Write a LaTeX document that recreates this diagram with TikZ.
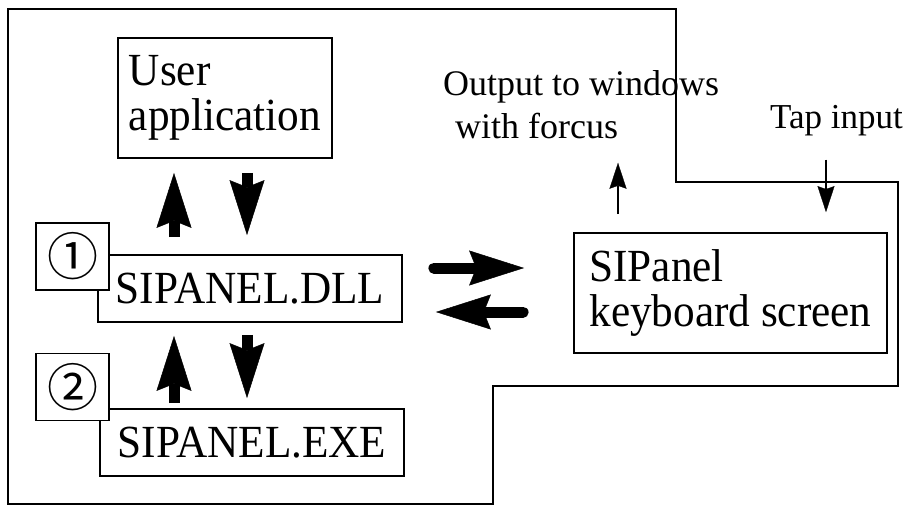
\documentclass[tikz,border=0pt]{standalone}
\usepackage{fontspec}
\setmainfont{Liberation Serif}
\newfontfamily\boxfont[FakeStretch=0.94]{Liberation Serif}
\newfontfamily\symfont{Noto Sans CJK JP}
\usetikzlibrary{arrows.meta}

\begin{document}
\begin{tikzpicture}[x=1pt, y=-1pt,
    box/.style = {draw, line width=1.8pt, align=left, inner sep=0pt,
                  font=\boxfont\fontsize{46}{45}\selectfont},
    numbox/.style = {draw, fill=white, line width=1.8pt, minimum width=73pt,
                     minimum height=67pt, inner sep=0pt,
                     font=\symfont\fontsize{51}{51}\selectfont},
    note/.style = {inner sep=0pt, align=left, font=\fontsize{36}{43}\selectfont},
    fat/.style = {line width=11pt,
                  -{Stealth[length=55pt, width=35pt, inset=7pt, line width=0.5pt]}},
    smallarrow/.style = {line width=1.5pt,
                  -{Stealth[length=26pt, width=17pt, inset=3pt, line width=0.3pt]}}]
  \useasboundingbox (0,0) rectangle (911,507);
  % outer frame
  \draw[line width=2pt] (8,9) -- (676,9) -- (676,182) -- (898,182) -- (898,386)
    -- (493,386) -- (493,504) -- (8,504) -- cycle;
  % boxes
  \node[box, minimum width=214pt, minimum height=120pt] (app) at (225,98) {User\\application};
  \node[box, minimum width=304pt, minimum height=67pt] (dll) at (250,288.5) {SIPANEL.DLL};
  \node[box, minimum width=304pt, minimum height=67pt] (exe) at (252,442.5) {SIPANEL.EXE};
  \node[box, minimum width=313pt, minimum height=120pt] (kb) at (730.5,293) {SIPanel\\keyboard screen};
  \node[numbox] (one) at (72.5,256.5) {①};
  \node[numbox] (two) at (72.5,387) {②};
  % texts
  \node[note, anchor=north west] (out) at (443,70) {Output to windows\\\hspace*{12pt}with forcus};
  \node[note, anchor=base west, font=\fontsize{35}{40}\selectfont] (tap) at (770,128) {Tap input};
  % arrows
  \coordinate (xa) at (174,0);
  \coordinate (xb) at (247,0);
  \coordinate (xo) at (618,0);
  \coordinate (xt) at (826,0);
  \coordinate (ya) at (0,268);
  \coordinate (yb) at (0,312);
  \draw[fat, shorten <=17pt, shorten >=14pt] (dll.north -| xa) -- (app.south -| xa);
  \draw[fat, shorten <=14pt, shorten >=19pt] (app.south -| xb) -- (dll.north -| xb);
  \draw[fat, shorten <=5pt, shorten >=13pt] (exe.north -| xa) -- (dll.south -| xa);
  \draw[fat, shorten <=12pt, shorten >=10pt] (dll.south -| xb) -- (exe.north -| xb);
  \draw[fat, line cap=round, shorten <=31pt, shorten >=49pt] (dll.east |- ya) -- (kb.west |- ya);
  \draw[fat, line cap=round, shorten <=50pt, shorten >=33pt] (kb.west |- yb) -- (dll.east |- yb);
  \draw[smallarrow, shorten <=18pt, shorten >=24pt] (kb.north -| xo) -- (out.south -| xo);
  \draw[smallarrow, shorten <=24pt, shorten >=20pt] (tap.south -| xt) -- (kb.north -| xt);
\end{tikzpicture}
\end{document}
